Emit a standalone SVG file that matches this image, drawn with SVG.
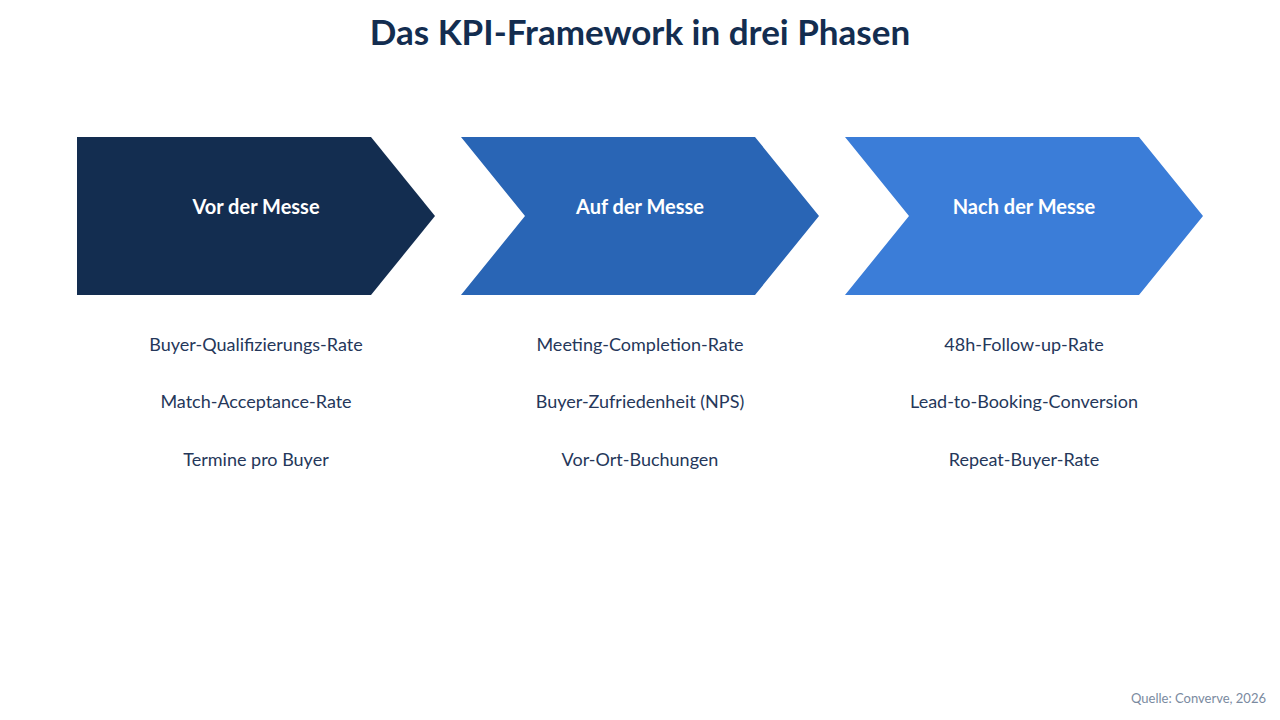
<svg xmlns="http://www.w3.org/2000/svg" width="1280" height="720" viewBox="0 0 1280 720">
<style>
text{font-family:Lato,"Open Sans","Liberation Sans",sans-serif;text-anchor:middle}
.t{font-size:35px;font-weight:bold;fill:#132d50}
.h{font-size:20px;font-weight:bold;fill:#ffffff}
.k{font-size:18px;fill:#25375a}
.s{font-size:13px;fill:#7a8aa0;text-anchor:end}
</style>
<rect width="1280" height="720" fill="#ffffff"/>
<text class="t" x="640" y="45">Das KPI-Framework in drei Phasen</text>
<g id="phase1">
<polygon points="77,137 371,137 435,216 371,295 77,295" fill="#132d50"/>
<text class="h" x="256" y="214">Vor der Messe</text>
<text class="k" x="256" y="351">Buyer-Qualifizierungs-Rate</text>
<text class="k" x="256" y="408">Match-Acceptance-Rate</text>
<text class="k" x="256" y="466">Termine pro Buyer</text>
</g>
<g id="phase2">
<polygon points="461,137 755,137 819,216 755,295 461,295 525,216" fill="#2965b5"/>
<text class="h" x="640" y="214">Auf der Messe</text>
<text class="k" x="640" y="351">Meeting-Completion-Rate</text>
<text class="k" x="640" y="408">Buyer-Zufriedenheit (NPS)</text>
<text class="k" x="640" y="466">Vor-Ort-Buchungen</text>
</g>
<g id="phase3">
<polygon points="845,137 1139,137 1203,216 1139,295 845,295 909,216" fill="#3b7dd8"/>
<text class="h" x="1024" y="214">Nach der Messe</text>
<text class="k" x="1024" y="351">48h-Follow-up-Rate</text>
<text class="k" x="1024" y="408">Lead-to-Booking-Conversion</text>
<text class="k" x="1024" y="466">Repeat-Buyer-Rate</text>
</g>
<g id="connectors"></g>
<text class="s" x="1266" y="703">Quelle: Converve, 2026</text>
</svg>
